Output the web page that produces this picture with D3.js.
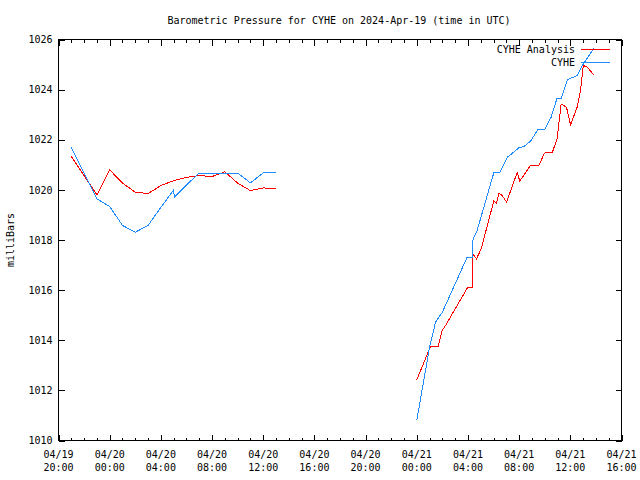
<!DOCTYPE html>
<html>
<head>
<meta charset="utf-8">
<script src="https://cdn.jsdelivr.net/npm/d3@7"></script>
<style>
  html, body { margin: 0; padding: 0; background: #fff; }
  svg { display: block; }
  text { font-family: "DejaVu Sans Mono", "Liberation Mono", monospace; font-size: 10px; fill: #000; }
</style>
</head>
<body>
<svg id="chart" width="640" height="480"></svg>
<script>
// ---- data (UTC) ----
const titleText = "Barometric Pressure for CYHE on 2024-Apr-19 (time in UTC)";
const yLabel = "milliBars";
const legendLabels = ["CYHE Analysis", "CYHE"];
const yTicks = [1010, 1012, 1014, 1016, 1018, 1020, 1022, 1024, 1026];
const xDomain = ["2024-04-19T20:00", "2024-04-21T16:00"];

// CYHE Analysis (red)
const analysisTimes = [
  "2024-04-19T21:00","2024-04-19T22:00","2024-04-19T23:00","2024-04-20T00:00",
  "2024-04-20T01:00","2024-04-20T02:00","2024-04-20T03:00","2024-04-20T04:00",
  "2024-04-20T05:00","2024-04-20T06:00","2024-04-20T07:00","2024-04-20T08:00",
  "2024-04-20T09:00","2024-04-20T10:00","2024-04-20T11:00","2024-04-20T12:00",
  "2024-04-20T13:00",
  "2024-04-20T18:00",
  "2024-04-21T00:00","2024-04-21T01:04","2024-04-21T01:40","2024-04-21T01:59",
  "2024-04-21T02:15","2024-04-21T03:58","2024-04-21T04:20","2024-04-21T04:21",
  "2024-04-21T04:40","2024-04-21T05:02","2024-04-21T06:01","2024-04-21T06:14",
  "2024-04-21T06:25","2024-04-21T06:41","2024-04-21T07:01","2024-04-21T07:51",
  "2024-04-21T08:03","2024-04-21T08:53","2024-04-21T09:32","2024-04-21T09:59",
  "2024-04-21T10:35","2024-04-21T10:58","2024-04-21T11:17","2024-04-21T11:42",
  "2024-04-21T12:01","2024-04-21T12:32","2024-04-21T12:48","2024-04-21T13:01",
  "2024-04-21T13:19","2024-04-21T13:50"
];
const analysisValues = [
  1021.33, 1020.57, 1019.80, 1020.80,
  1020.27, 1019.91, 1019.85, 1020.17,
  1020.37, 1020.50, 1020.57, 1020.53,
  1020.72, 1020.27, 1019.97, 1020.08,
  1020.04,
  null,
  1012.42, 1013.75, 1013.75, 1014.39,
  1014.59, 1016.10, 1016.10, 1017.47,
  1017.25, 1017.65, 1019.55, 1019.47,
  1019.87, 1019.77, 1019.51, 1020.70,
  1020.35, 1020.97, 1020.97, 1021.47,
  1021.48, 1022.04, 1023.43, 1023.30,
  1022.60, 1023.30, 1023.96, 1024.96,
  1024.90, 1024.59
];

// CYHE observations (blue)
const obsTimes = [
  "2024-04-19T21:00","2024-04-19T22:00","2024-04-19T23:00","2024-04-20T00:00",
  "2024-04-20T01:00","2024-04-20T02:00","2024-04-20T03:00","2024-04-20T04:00",
  "2024-04-20T05:00","2024-04-20T05:03","2024-04-20T06:00","2024-04-20T07:00",
  "2024-04-20T08:00","2024-04-20T09:00","2024-04-20T10:00","2024-04-20T11:00",
  "2024-04-20T12:00","2024-04-20T13:00",
  "2024-04-20T18:00",
  "2024-04-21T00:00","2024-04-21T01:00","2024-04-21T01:28","2024-04-21T02:00",
  "2024-04-21T03:56","2024-04-21T04:20","2024-04-21T04:21","2024-04-21T04:24",
  "2024-04-21T04:43","2024-04-21T06:01","2024-04-21T06:29","2024-04-21T07:04",
  "2024-04-21T07:28","2024-04-21T07:59","2024-04-21T08:22","2024-04-21T08:53",
  "2024-04-21T09:28","2024-04-21T09:59","2024-04-21T10:30","2024-04-21T10:58",
  "2024-04-21T11:18","2024-04-21T11:46","2024-04-21T12:04","2024-04-21T12:32",
  "2024-04-21T12:56","2024-04-21T13:50"
];
const obsValues = [
  1021.70, 1020.67, 1019.64, 1019.34,
  1018.58, 1018.31, 1018.58, 1019.30,
  1020.00, 1019.71, 1020.20, 1020.67,
  1020.67, 1020.67, 1020.67, 1020.28,
  1020.68, 1020.68,
  null,
  1010.80, 1013.72, 1014.72, 1015.12,
  1017.31, 1017.31, 1017.65, 1018.05,
  1018.38, 1020.68, 1020.68, 1021.30,
  1021.46, 1021.68, 1021.73, 1021.94,
  1022.40, 1022.40, 1022.90, 1023.66,
  1023.66, 1024.39, 1024.46, 1024.56,
  1024.96, 1025.65
];

// ---- drawing ----
const svg = d3.select("#chart");
const L = 58, R = 621, T = 39, B = 440;
const parse = s => new Date(s + ":00Z");

const x = d3.scaleUtc().domain(xDomain.map(parse)).range([L + 0.5, R + 0.5]);
const y = d3.scaleLinear().domain([1010, 1026]).range([B + 0.5, T + 0.5]);

const colors = { analysis: "#ff0000", obs: "#1e8cff" };

// minor ticks (hourly) bottom & top
const minorBottom = d3.axisBottom(x).ticks(d3.utcHour.every(1)).tickSizeInner(-3).tickSizeOuter(0).tickFormat("");
const minorTop = d3.axisTop(x).ticks(d3.utcHour.every(1)).tickSizeInner(-3).tickSizeOuter(0).tickFormat("");
const majorBottom = d3.axisBottom(x).ticks(d3.utcHour.every(4)).tickSizeInner(-6).tickSizeOuter(0).tickFormat("");
const majorTop = d3.axisTop(x).ticks(d3.utcHour.every(4)).tickSizeInner(-6).tickSizeOuter(0).tickFormat("");

function styleAxis(g) {
  g.select(".domain").remove();
  g.selectAll("line").attr("stroke", "#000").attr("shape-rendering", "crispEdges");
}
svg.append("g").attr("transform", `translate(0,${B + 0.5})`).call(minorBottom).call(styleAxis);
svg.append("g").attr("transform", `translate(0,${T + 0.5})`).call(minorTop).call(styleAxis);
svg.append("g").attr("transform", `translate(0,${B + 0.5})`).call(majorBottom).call(styleAxis);
svg.append("g").attr("transform", `translate(0,${T + 0.5})`).call(majorTop).call(styleAxis);

// y axes
const yLeft = d3.axisLeft(y).tickValues(yTicks).tickSizeInner(-6).tickSizeOuter(0).tickPadding(6).tickFormat(d3.format("d"));
const yRight = d3.axisRight(y).tickValues(yTicks).tickSizeInner(-6).tickSizeOuter(0).tickFormat("");
svg.append("g").attr("transform", `translate(${L + 0.5},0)`).call(yLeft).call(styleAxis)
  .call(g => g.selectAll("text").attr("font-family", null).attr("font-size", null).attr("fill", "#000"));
svg.append("g").attr("transform", `translate(${R + 0.5},0)`).call(yRight).call(styleAxis);

// x tick labels (two lines)
const xMajor = x.ticks(d3.utcHour.every(4));
const fmtDate = d3.utcFormat("%m/%d"), fmtTime = d3.utcFormat("%H:%M");
const xl = svg.append("g").selectAll("text").data(xMajor).join("text")
  .attr("x", d => x(d)).attr("text-anchor", "middle");
xl.append("tspan").attr("x", d => x(d)).attr("y", 458).text(d => fmtDate(d));
xl.append("tspan").attr("x", d => x(d)).attr("y", 471).text(d => fmtTime(d));

// border
svg.append("rect").attr("x", L + 0.5).attr("y", T + 0.5).attr("width", R - L).attr("height", B - T)
  .attr("fill", "none").attr("stroke", "#000").attr("shape-rendering", "crispEdges");

// lines
const line = d3.line().defined(d => d.v != null).x(d => x(d.t)).y(d => y(d.v));
const analysis = analysisTimes.map((t, i) => ({ t: parse(t), v: analysisValues[i] }));
const obs = obsTimes.map((t, i) => ({ t: parse(t), v: obsValues[i] }));

svg.append("path").datum(analysis).attr("d", line).attr("fill", "none")
  .attr("stroke", colors.analysis).attr("stroke-width", 1).attr("shape-rendering", "crispEdges");
svg.append("path").datum(obs).attr("d", line).attr("fill", "none")
  .attr("stroke", colors.obs).attr("stroke-width", 1).attr("shape-rendering", "crispEdges");

// title
svg.append("text").attr("x", 339).attr("y", 24).attr("text-anchor", "middle").text(titleText);

// y label
svg.append("text").attr("transform", "translate(14,240) rotate(-90)").attr("text-anchor", "middle").text(yLabel);

// legend
const legendY = [49.5, 62.5];
const legendColors = [colors.analysis, colors.obs];
const lg = svg.append("g");
legendLabels.forEach((lab, i) => {
  lg.append("text").attr("x", 575).attr("y", legendY[i] + 3.5).attr("text-anchor", "end").text(lab);
  lg.append("line").attr("x1", 581).attr("x2", 610).attr("y1", legendY[i]).attr("y2", legendY[i])
    .attr("stroke", legendColors[i]).attr("shape-rendering", "crispEdges");
});
</script>
</body>
</html>
